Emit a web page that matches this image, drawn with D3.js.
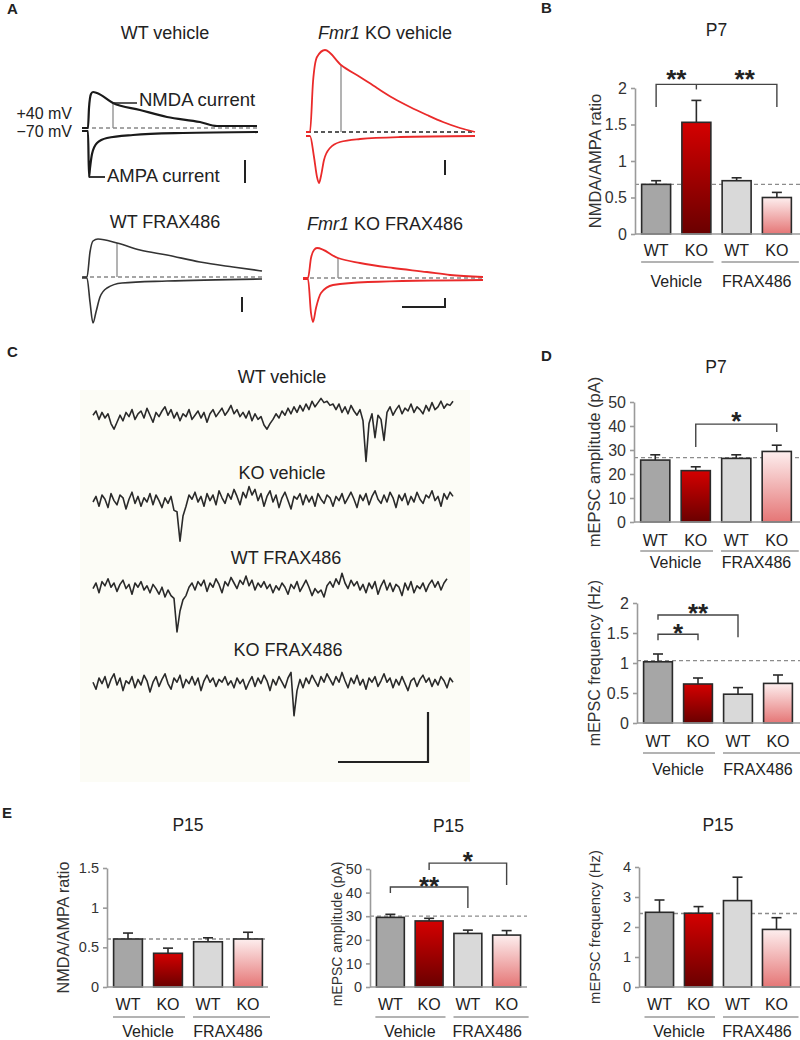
<!DOCTYPE html>
<html><head><meta charset="utf-8">
<script src="https://cdn.jsdelivr.net/npm/d3@7"></script>
<style>body{margin:0;background:#fff} svg text{font-family:"Liberation Sans",Arial,sans-serif;fill:#222}</style>
</head><body><svg id="c" width="800" height="1040"></svg>
<script>
// ---------------- DATA ----------------
const barCats = ["WT","KO","WT","KO"];
const groupLabels = ["Vehicle","FRAX486"];

const p7RatioMean = [0.68,1.53,0.73,0.50];
const p7RatioSem  = [0.05,0.30,0.04,0.07];
const p7RatioRef  = 0.68;
const p7RatioTicks = [0,0.5,1,1.5,2];

const p7AmpMean = [25.8,21.4,26.5,29.4];
const p7AmpSem  = [2.2,1.6,1.5,2.6];
const p7AmpRef  = 26.8;
const p7AmpTicks = [0,10,20,30,40,50];

const p7FreqMean = [1.02,0.65,0.48,0.66];
const p7FreqSem  = [0.13,0.10,0.11,0.14];
const p7FreqRef  = 1.04;
const p7FreqTicks = [0,0.5,1,1.5,2];

const p15RatioMean = [0.605,0.425,0.57,0.605];
const p15RatioSem  = [0.075,0.065,0.05,0.085];
const p15RatioRef  = 0.605;
const p15RatioTicks = [0,0.5,1,1.5];

const p15AmpMean = [29.5,28.0,22.7,22.0];
const p15AmpSem  = [1.3,1.1,1.4,1.9];
const p15AmpRef  = 30;
const p15AmpTicks = [0,10,20,30,40,50];

const p15FreqMean = [2.49,2.46,2.88,1.92];
const p15FreqSem  = [0.41,0.22,0.78,0.39];
const p15FreqRef  = 2.45;
const p15FreqTicks = [0,1,2,3,4];

// significance brackets (category index, values in axis units)
const p7RatioSig = [{from:0,to:3,top:2.05,legL:1.74,legR:1.74,mid:[1,1.98]}];
const p7RatioStars = [{at:0.5,v:2.2,label:"**"},{at:2.2,v:2.2,label:"**"}];
const p7AmpSig = [{from:1,to:3,top:40.8,legL:31.3,legR:37.5}];
const p7AmpStars = [{at:2,v:44.6,label:"*"}];
const p7FreqSig = [{from:0,to:2,top:1.8,legL:1.72,legR:1.43},{from:0,to:1,top:1.48,legL:1.38,legR:1.38}];
const p7FreqStars = [{at:1,v:1.93,label:"**"},{at:0.5,v:1.6,label:"*"}];
const p15AmpSig = [{from:1,to:3,top:52.5,legL:49.6,legR:43.2},{from:0,to:2,top:42.4,legL:39.8,legR:33.5}];
const p15AmpStars = [{at:2,v:55.9,label:"*"},{at:1,v:45.3,label:"**"}];

// Panel A evoked currents: [time (ms), current (a.u., + outward)]
const wtVehNMDA = [[-6,0],[0,0],[1,20],[3,34],[5,36],[9,35],[25,25],[52,18],[79,11],[112,6],[129,2],[169,2]];
const wtVehAMPA = [[-6,-3],[0,-3],[1,-49],[2,-40],[4,-26],[9,-15],[19,-10],[45,-7],[95,-5],[170,-4]];
const koVehNMDA = [[-4,0],[0,0],[3,50],[7,75],[15,82],[31,67],[50,55],[67,44],[83,34],[100,25],[117,17],[133,10],[150,4],[165,0]];
const koVehAMPA = [[-4,-4],[0,-4],[4,-25],[7,-45],[9,-51],[11,-44],[14,-28],[20,-16],[30,-10],[50,-7],[90,-5],[165,-4]];
const wtFraxNMDA = [[-5,0],[0,0],[3,25],[6,36],[11,38],[30,34],[53,27],[80,22],[113,15],[146,10],[175,6]];
const wtFraxAMPA = [[-5,-1],[0,-1],[3,-25],[6,-46],[9,-35],[13,-20],[20,-11],[35,-6],[80,-4],[175,-2]];
const koFraxNMDA = [[-5,0],[0,0],[3,20],[6,28],[9,30],[30,20],[52,15],[85,10],[119,6],[142,3],[175,1]];
const koFraxAMPA = [[-5,-1],[0,-1],[3,-35],[5,-44],[8,-30],[13,-15],[25,-7],[60,-4],[175,-2]];

// Panel C mEPSC recordings (sampled every 1 time unit, pA)
const mWtVeh = [2,5,-1,4,0,3,-4,-8,-3,2, -2,4,1,6,-1,3,5,0,7,2, -3,4,1,5,8,2,6,0,4,-2, 3,1,6,-1,2,5,0,4,-3,3,
 6,1,4,7,2,5,9,3,6,1, 4,0,5,-2,3,-1,1,-5,-8,-4, -1,3,0,5,2,7,3,8,4,9, 5,10,6,12,8,11,14,11,12,9,
 10,6,10,4,8,3,9,5,2,6, -2,-31,-4,3,-14,2,-1,-16,4,8, 2,6,9,3,7,5,10,4,8,6, 3,9,5,11,6,8,12,7,10,9,12];
const mKoVeh = [0,4,-3,5,2,-4,6,1,-2,5, 3,-5,2,7,-1,4,-3,3,0,6, -2,5,1,-4,3,-1,4,-6,-7,-28, -10,-3,5,2,7,0,4,-3,6,1,
 5,-2,8,3,-1,6,2,9,4,-2, 7,3,11,5,9,1,6,-3,4,8, 0,5,-4,3,7,1,-5,4,2,6, -2,5,0,4,-3,6,2,-1,5,3,
 -3,4,1,6,-1,3,7,2,-4,5, 1,6,-2,4,8,2,-1,5,0,7, 3,-4,5,1,6,-2,4,0,7,2, -1,5,3,8,1,4,-3,6,2,7,4];
const mWtFrax = [1,5,-2,6,3,8,2,5,-1,4, 7,1,4,-3,5,2,6,0,3,-2, 4,1,-3,2,-5,0,-4,-6,-30,-15, -7,-4,2,5,0,6,3,7,-1,5,
 2,8,4,-2,6,3,9,5,1,7, 4,10,3,7,0,5,2,6,1,4, -2,3,0,5,2,-3,4,1,6,-1, 3,7,2,-4,1,-2,0,-5,3,6,
 2,8,4,12,5,1,7,3,6,0, 4,-2,5,1,6,-3,3,7,0,5, -1,4,2,-4,5,0,6,-2,3,1, 5,-1,4,7,2,6,0,5,8];
const mKoFrax = [2,-3,5,1,6,-2,4,8,0,5, -4,3,1,6,-2,4,0,7,3,-5, 2,6,-1,4,8,1,-3,5,2,7, -2,4,1,6,0,5,-4,3,7,2,
 5,-1,4,2,6,0,3,-2,5,1, 4,-3,2,6,-1,5,1,7,3,-4, 4,0,6,2,-2,5,9,-22,-4,4, -2,5,1,7,3,-1,6,2,8,4,
 0,6,2,9,3,-2,5,1,7,0, 4,-3,5,2,6,-1,3,8,2,5, -2,4,0,6,1,-4,3,5,-1,4, 7,2,5,-1,4,0,6,3,-2,5,2];

// ---------------- DRAW ----------------
const FONT = '"Liberation Sans",Arial,sans-serif';
const svg = d3.select("#c");
const defs = svg.append("defs");
function grad(id, c0, c1){
  const g = defs.append("linearGradient").attr("id",id).attr("x1",0).attr("y1",0).attr("x2",0).attr("y2",1);
  g.append("stop").attr("offset","0%").attr("stop-color",c0);
  g.append("stop").attr("offset","100%").attr("stop-color",c1);
}
grad("gKO","#d40000","#6a0000");
grad("gKOF","#fdeeee","#e57676");
const barFills = ["#a6a6a6","url(#gKO)","#d9d9d9","url(#gKOF)"];

function txt(x,y,s,size,opt={}){
  const t = svg.append("text").attr("x",x).attr("y",y).attr("font-size",size)
    .attr("text-anchor",opt.anchor||"start").attr("font-family",FONT).text(s);
  if(opt.bold) t.attr("font-weight","bold");
  if(opt.fill) t.style("fill",opt.fill);
  if(opt.rotate) t.attr("transform",`rotate(-90,${x},${y})`);
  return t;
}
function titleItal(cx,y,ital,rest,size){
  const t = svg.append("text").attr("x",cx).attr("y",y).attr("font-size",size).attr("text-anchor","middle").attr("font-family",FONT);
  t.append("tspan").attr("font-style","italic").text(ital);
  t.append("tspan").text(rest);
}

// panel letters
txt(7,14,"A",15,{bold:true});
txt(541,13,"B",15,{bold:true});
txt(7,357,"C",15,{bold:true});
txt(541,361,"D",15,{bold:true});
txt(2,818,"E",15,{bold:true});

// ---------- Panel A ----------
function drawEvoked(p){
  const x = d3.scaleLinear().domain([0,175]).range([p.x0,p.x0+175]);
  const y = d3.scaleLinear().domain([-60,90]).range([p.base+60,p.base-90]);
  const line = d3.line().x(d=>x(d[0])).y(d=>y(d[1])).curve(d3.curveMonotoneX);
  svg.append("line").attr("x1",x(p.dash[0])).attr("x2",x(p.dash[1])).attr("y1",y(0)).attr("y2",y(0))
    .attr("stroke",p.dashColor).attr("stroke-width",1.3).attr("stroke-dasharray","4,3");
  svg.append("line").attr("x1",x(p.meas[0])).attr("x2",x(p.meas[0])).attr("y1",y(0)).attr("y2",y(p.meas[1]))
    .attr("stroke","#8a8a8a").attr("stroke-width",1.3);
  [p.nmda,p.ampa].forEach(d=>svg.append("path").datum(d).attr("d",line).attr("fill","none")
    .attr("stroke",p.color).attr("stroke-width",p.w||1.8).attr("stroke-linejoin","round"));
  svg.append("path").datum(p.scale).attr("d",d3.line().x(d=>x(d[0])).y(d=>y(d[1])))
    .attr("fill","none").attr("stroke","#222").attr("stroke-width",2);
  return {x,y};
}
const aWV = drawEvoked({x0:88,base:128,nmda:wtVehNMDA,ampa:wtVehAMPA,meas:[25,25],scale:[[157,-32],[157,-55]],dash:[-3,170],dashColor:"#888",color:"#1a1a1a",w:2.2});
drawEvoked({x0:310,base:132,nmda:koVehNMDA,ampa:koVehAMPA,meas:[31,67],scale:[[135,-28],[135,-43]],dash:[-3,165],dashColor:"#222",color:"#ea2a2a"});
drawEvoked({x0:87,base:277,nmda:wtFraxNMDA,ampa:wtFraxAMPA,meas:[30,34],scale:[[155,-20],[155,-35]],dash:[-4,175],dashColor:"#888",color:"#333",w:1.6});
drawEvoked({x0:308,base:278,nmda:koFraxNMDA,ampa:koFraxAMPA,meas:[30,20],scale:[[94,-29],[137,-29],[137,-20]],dash:[-5,175],dashColor:"#888",color:"#ea2a2a"});

txt(165,39,"WT vehicle",18,{anchor:"middle"});
titleItal(385,39,"Fmr1"," KO vehicle",18);
txt(165,228,"WT FRAX486",18,{anchor:"middle"});
titleItal(385,230,"Fmr1"," KO FRAX486",18);
txt(72,119,"+40 mV",16,{anchor:"end"});
txt(72,137,"\u221270 mV",16,{anchor:"end"});
svg.append("line").attr("x1",aWV.x(25)).attr("x2",137).attr("y1",aWV.y(25)).attr("y2",aWV.y(25)).attr("stroke","#222").attr("stroke-width",1.5);
txt(139,106,"NMDA current",18.5);
svg.append("line").attr("x1",aWV.x(1)).attr("x2",105).attr("y1",aWV.y(-49)).attr("y2",aWV.y(-49)).attr("stroke","#222").attr("stroke-width",1.8);
txt(107,182,"AMPA current",18.5);

// ---------- Panel C ----------
svg.append("rect").attr("x",80).attr("y",390).attr("width",390).attr("height",392).attr("fill","#fcfcf6");
const cx = d3.scaleLinear().domain([0,120]).range([93,453]);
function drawMini(data, base){
  const y = d3.scaleLinear().domain([-50,50]).range([base+70,base-70]);
  svg.append("path").datum(data).attr("d",d3.line().x((d,i)=>cx(i)).y(d=>y(d)))
    .attr("fill","none").attr("stroke","#2a2a2a").attr("stroke-width",1.6).attr("stroke-linejoin","round");
}
txt(282,383,"WT vehicle",18,{anchor:"middle"});
drawMini(mWtVeh,418);
txt(282,479,"KO vehicle",18,{anchor:"middle"});
drawMini(mKoVeh,502);
txt(286,564,"WT FRAX486",18,{anchor:"middle"});
drawMini(mWtFrax,590);
txt(288,656,"KO FRAX486",18,{anchor:"middle"});
drawMini(mKoFrax,685);
svg.append("path").attr("d","M338,762H428V712").attr("fill","none").attr("stroke","#222").attr("stroke-width",2.2);

// ---------- Bar charts ----------
function barChart(o){
  const x = d3.scaleBand().domain(d3.range(4)).range([o.x0+1,o.x1]).paddingInner(0.28).paddingOuter(0.14);
  const y = d3.scaleLinear().domain(o.domain).range([o.y0,o.yTop]);
  const bw = x.bandwidth(), step = x.step();
  const cxAt = i => x(0)+bw/2+i*step;
  const g = svg.append("g");
  g.append("line").attr("x1",o.x0).attr("x2",o.xEnd).attr("y1",y(o.ref)).attr("y2",y(o.ref))
    .attr("stroke","#8c8c8c").attr("stroke-width",1.3).attr("stroke-dasharray","4,3");
  o.mean.forEach((m,i)=>{
    const c = cxAt(i);
    g.append("line").attr("x1",c).attr("x2",c).attr("y1",y(m)).attr("y2",y(m+o.sem[i])).attr("stroke","#2a2a2a").attr("stroke-width",1.6);
    g.append("line").attr("x1",c-5).attr("x2",c+5).attr("y1",y(m+o.sem[i])).attr("y2",y(m+o.sem[i])).attr("stroke","#2a2a2a").attr("stroke-width",1.6);
  });
  g.selectAll("rect.bar").data(o.mean).join("rect").attr("class","bar")
    .attr("x",(d,i)=>x(i)).attr("width",bw).attr("y",d=>y(d)).attr("height",d=>y(0)-y(d))
    .attr("fill",(d,i)=>barFills[i]).attr("stroke","#2a2a2a").attr("stroke-width",1.6);
  g.append("line").attr("x1",o.x0).attr("x2",o.xEnd).attr("y1",y(0)).attr("y2",y(0)).attr("stroke","#9a9a9a").attr("stroke-width",1.6);
  const ax = g.append("g").attr("transform",`translate(${o.x0},0)`)
    .call(d3.axisLeft(y).tickValues(o.ticks).tickFormat(d3.format("~g")).tickSize(4).tickSizeOuter(0).tickPadding(4));
  ax.attr("font-family",FONT).attr("font-size",o.tickSize||16);
  ax.select(".domain").attr("stroke","#9a9a9a").attr("stroke-width",1.6);
  ax.selectAll(".tick line").attr("stroke","#9a9a9a").attr("stroke-width",1.6);
  ax.selectAll(".tick text").style("fill","#333");
  txt(o.ylabX,o.ylabY||(o.y0+o.yTop)/2,o.ylab,o.ylabSize,{anchor:"middle",rotate:true,fill:"#333"});
  if(o.title) txt(cxAt(1.5),o.titleY,o.title,17.5,{anchor:"middle"});
  barCats.forEach((c,i)=>txt(cxAt(i),y(0)+o.off[0],c,16,{anchor:"middle"}));
  const mid = (cxAt(1)+cxAt(2))/2;
  g.append("line").attr("x1",cxAt(0)-15).attr("x2",mid-3).attr("y1",y(0)+o.off[1]).attr("y2",y(0)+o.off[1]).attr("stroke","#9a9a9a").attr("stroke-width",1.6);
  g.append("line").attr("x1",mid+5).attr("x2",Math.min(o.xEnd+2,cxAt(3)+22)).attr("y1",y(0)+o.off[1]).attr("y2",y(0)+o.off[1]).attr("stroke","#9a9a9a").attr("stroke-width",1.6);
  txt(cxAt(0.5),y(0)+o.off[2],groupLabels[0],16,{anchor:"middle"});
  txt(cxAt(2.5),y(0)+o.off[2],groupLabels[1],16,{anchor:"middle"});
  (o.sig||[]).forEach(s=>{
    g.append("path").attr("d",`M${cxAt(s.from)},${y(s.legL)}V${y(s.top)}H${cxAt(s.to)}V${y(s.legR)}`)
      .attr("fill","none").attr("stroke","#444").attr("stroke-width",1.4);
    if(s.mid) g.append("line").attr("x1",cxAt(s.mid[0])).attr("x2",cxAt(s.mid[0])).attr("y1",y(s.top)).attr("y2",y(s.mid[1])).attr("stroke","#444").attr("stroke-width",1.4);
  });
  (o.stars||[]).forEach(s=>{
    txt(cxAt(s.at),y(s.v)+15,s.label,26,{anchor:"middle",bold:true});
  });
}

barChart({x0:635,x1:797,xEnd:800,y0:234,yTop:88,domain:[0,2],ticks:p7RatioTicks,mean:p7RatioMean,sem:p7RatioSem,ref:p7RatioRef,
  ylab:"NMDA/AMPA ratio",ylabX:601,ylabSize:16.5,title:"P7",titleY:36,off:[22,28,53],sig:p7RatioSig,stars:p7RatioStars});
barChart({x0:634,x1:797,xEnd:800,y0:522,yTop:402,domain:[0,50],ticks:p7AmpTicks,mean:p7AmpMean,sem:p7AmpSem,ref:p7AmpRef,
  ylab:"mEPSC amplitude (pA)",ylabX:600,ylabSize:16.5,title:"P7",titleY:373,off:[24,29,46],sig:p7AmpSig,stars:p7AmpStars});
barChart({x0:637,x1:798,xEnd:800,y0:723,yTop:603,domain:[0,2],ticks:p7FreqTicks,mean:p7FreqMean,sem:p7FreqSem,ref:p7FreqRef,
  ylab:"mEPSC frequency (Hz)",ylabX:600,ylabSize:16,title:"",titleY:0,off:[24,30,52],sig:p7FreqSig,stars:p7FreqStars});
barChart({x0:107,x1:268,xEnd:268,y0:987,yTop:868,domain:[0,1.5],ticks:p15RatioTicks,mean:p15RatioMean,sem:p15RatioSem,ref:p15RatioRef,
  ylab:"NMDA/AMPA ratio",ylabX:69,ylabSize:16.2,tickSize:14.5,title:"P15",titleY:831,off:[23,30,50]});
barChart({x0:370,x1:526,xEnd:527,y0:987,yTop:869,domain:[0,50],ticks:p15AmpTicks,mean:p15AmpMean,sem:p15AmpSem,ref:p15AmpRef,
  ylab:"mEPSC amplitude (pA)",ylabX:342,ylabY:934,ylabSize:14,tickSize:14.5,title:"P15",titleY:832,off:[23,30,50],sig:p15AmpSig,stars:p15AmpStars});
barChart({x0:639,x1:796,xEnd:800,y0:987,yTop:867,domain:[0,4],ticks:p15FreqTicks,mean:p15FreqMean,sem:p15FreqSem,ref:p15FreqRef,
  ylab:"mEPSC frequency (Hz)",ylabX:600,ylabSize:14.8,tickSize:14.5,title:"P15",titleY:831,off:[23,30,50]});
</script></body></html>
